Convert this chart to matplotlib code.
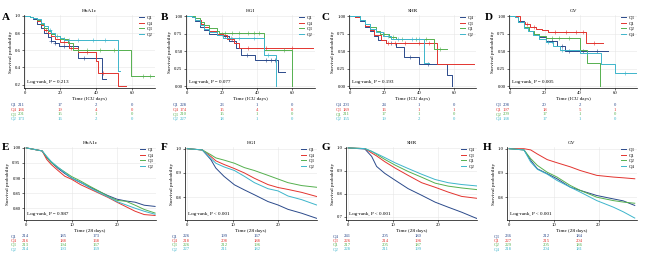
import numpy as np
import matplotlib
matplotlib.use("Agg")
import matplotlib.pyplot as plt

plt.rcParams['font.family'] = ['Liberation Serif', 'DejaVu Serif']

# ---- data ----
colors = ["#2B4A8B", "#E3342F", "#55B04F", "#3DB5CB"]

titles = ["HbA1c", "HGI", "SHR", "GV", "HbA1c", "HGI", "SHR", "GV"]
letters = ["A", "B", "C", "D", "E", "F", "G", "H"]
xlabels = ["Time (ICU days)"] * 4 + ["Time (28 days)"] * 4
pvals = ["Log-rank, P = 0.213", "Log-rank, P = 0.077", "Log-rank, P = 0.193",
         "Log-rank, P = 0.005", "Log-rank, P = 0.987", "Log-rank, P < 0.001",
         "Log-rank, P < 0.001", "Log-rank, P < 0.001"]

strata = [["Q1", "Q4", "Q3", "Q2"], ["Q1", "Q4", "Q3", "Q2"],
          ["Q4", "Q3", "Q1", "Q2"], ["Q3", "Q1", "Q2", "Q4"],
          ["Q1", "Q4", "Q3", "Q2"], ["Q1", "Q4", "Q3", "Q2"],
          ["Q4", "Q3", "Q1", "Q2"], ["Q3", "Q1", "Q2", "Q4"]]

# ICU-days panels (step curves)
A_t = [[0, 3, 5, 7, 9, 11, 13, 15, 17, 19, 29.8, 43, 45.5],
       [0, 3, 5, 7, 9, 11, 13, 15, 17, 20, 25, 30, 40, 41, 52, 56.5],
       [0, 3, 5, 7, 9, 11, 13, 15, 17, 20, 24, 27, 59.5, 72],
       [0, 3, 5, 7, 9, 11, 13, 15, 17, 20, 22, 52, 53.5]]
A_s = [[1, 0.99, 0.96, 0.91, 0.86, 0.80, 0.75, 0.71, 0.68, 0.646, 0.51, 0.27, 0.27],
       [1, 0.99, 0.97, 0.94, 0.89, 0.84, 0.80, 0.76, 0.73, 0.70, 0.63, 0.58, 0.47, 0.33, 0.18, 0.18],
       [1, 0.99, 0.98, 0.95, 0.91, 0.86, 0.82, 0.79, 0.76, 0.73, 0.68, 0.60, 0.30, 0.30],
       [1, 0.99, 0.98, 0.96, 0.92, 0.88, 0.84, 0.80, 0.77, 0.74, 0.72, 0.36, 0.36]]
A_c = [[15, 17, 22, 33], [12, 22, 26, 35, 44], [18, 22, 30, 35, 42, 50, 66, 70], [14, 25, 30, 38, 45]]

B_t = [[0, 3, 5, 7.4, 10, 13, 17, 20.4, 24, 28, 30.7, 39, 52, 56],
       [0, 3, 5, 8, 10, 13, 17, 20.4, 23, 27, 30, 71.5],
       [0, 3, 5, 7.4, 10, 13, 17, 18.5, 43.7, 59.5],
       [0, 3, 5, 7.4, 10, 13, 17, 20.4, 43.7, 50.5]]
B_s = [[1, 0.99, 0.93, 0.84, 0.80, 0.75, 0.73, 0.71, 0.65, 0.54, 0.45, 0.37, 0.20, 0.20],
       [1, 0.99, 0.95, 0.89, 0.85, 0.78, 0.75, 0.725, 0.68, 0.61, 0.545, 0.545],
       [1, 1, 0.97, 0.91, 0.87, 0.83, 0.78, 0.76, 0.51, 0.0],
       [1, 0.99, 0.95, 0.87, 0.82, 0.77, 0.73, 0.69, 0.45, 0.0]]
B_c = [[22, 34, 45, 48, 50], [20, 26, 35, 45, 60], [22, 26, 30, 35, 38, 41, 55], [25, 30, 38, 46]]

C_t = [[0, 3, 6, 9, 11.7, 14, 16.4, 21, 27, 31.6, 40, 56, 59],
       [0, 3, 6, 9, 11.7, 14, 18, 21, 50.5, 71.8],
       [0, 3, 6, 9, 11.7, 15, 17.6, 22.7, 27, 48.6, 56],
       [0, 3, 6, 9, 11.7, 15, 19.4, 24, 43, 45.5]]
C_s = [[1, 0.99, 0.93, 0.85, 0.78, 0.72, 0.66, 0.62, 0.56, 0.41, 0.32, 0.16, 0.0],
       [1, 0.99, 0.94, 0.86, 0.80, 0.73, 0.66, 0.61, 0.31, 0.31],
       [1, 1, 0.95, 0.89, 0.84, 0.79, 0.75, 0.70, 0.68, 0.53, 0.53],
       [1, 1, 0.95, 0.88, 0.82, 0.77, 0.72, 0.68, 0.33, 0.33]]
C_c = [[24, 35, 45], [22, 26, 32, 40, 46], [20, 25, 30, 38, 44, 52], [22, 28, 36, 40]]

D_t = [[0, 3, 5, 8, 11, 13.6, 17, 21, 27, 31.6, 56],
       [0, 3, 6, 9, 11.7, 15, 18.3, 22, 43.9, 53.3],
       [0, 3, 5, 8, 11, 14, 17, 21, 40, 44, 51.4],
       [0, 3, 5, 8, 10.6, 13.6, 17, 21, 25, 28.7, 40, 52.4, 60, 72]]
D_s = [[1, 0.99, 0.93, 0.84, 0.79, 0.75, 0.70, 0.65, 0.58, 0.50, 0.50],
       [1, 1, 0.915, 0.88, 0.84, 0.82, 0.80, 0.77, 0.62, 0.62],
       [1, 0.99, 0.92, 0.84, 0.78, 0.74, 0.71, 0.69, 0.51, 0.33, 0.0],
       [1, 0.99, 0.92, 0.83, 0.78, 0.725, 0.68, 0.63, 0.57, 0.51, 0.47, 0.32, 0.19, 0.19]]
D_c = [[24, 30, 34, 42, 50], [10, 14, 26, 32, 38, 42, 48], [24, 28, 34], [22, 30, 44, 66]]

# 28-day panels (many small steps, drawn as lines through read points)
E_t = [0, 3.5, 4.5, 5.5, 7, 8.5, 10, 12, 14, 16, 18, 20, 22, 24, 26, 28.4]
E_s = [[1, 0.99, 0.968, 0.952, 0.932, 0.915, 0.90, 0.885, 0.87, 0.856, 0.842, 0.83, 0.824, 0.82, 0.81, 0.806],
       [1, 0.99, 0.962, 0.945, 0.925, 0.906, 0.896, 0.878, 0.864, 0.85, 0.836, 0.82, 0.805, 0.79, 0.779, 0.776],
       [1, 0.99, 0.97, 0.952, 0.935, 0.92, 0.905, 0.89, 0.873, 0.857, 0.84, 0.826, 0.823, 0.81, 0.796, 0.784],
       [1, 0.99, 0.972, 0.955, 0.936, 0.918, 0.90, 0.886, 0.868, 0.852, 0.838, 0.822, 0.811, 0.80, 0.79, 0.78]]

F_t = [0, 3.3, 5.2, 6.3, 8.1, 10.4, 12.6, 14.8, 17.8, 20, 22.2, 25.2, 28.5]
F_s = [[1, 0.995, 0.955, 0.92, 0.886, 0.851, 0.83, 0.81, 0.782, 0.768, 0.75, 0.734, 0.713],
       [1, 0.995, 0.968, 0.95, 0.935, 0.918, 0.9, 0.878, 0.852, 0.84, 0.832, 0.82, 0.803],
       [1, 0.995, 0.975, 0.962, 0.953, 0.94, 0.922, 0.91, 0.89, 0.875, 0.86, 0.848, 0.841],
       [1, 0.995, 0.96, 0.94, 0.925, 0.91, 0.886, 0.86, 0.835, 0.826, 0.805, 0.79, 0.768]]

G_t = [0, 3.7, 5.2, 6.3, 8.1, 10.4, 13.3, 16.3, 19.3, 22.2, 25.2, 28.5]
G_s = [[1, 0.995, 0.963, 0.919, 0.889, 0.859, 0.822, 0.793, 0.763, 0.741, 0.719, 0.692],
       [1, 0.997, 0.978, 0.965, 0.94, 0.912, 0.88, 0.848, 0.828, 0.807, 0.788, 0.78],
       [1, 0.997, 0.985, 0.972, 0.95, 0.925, 0.897, 0.872, 0.846, 0.833, 0.825, 0.818],
       [1, 0.997, 0.985, 0.975, 0.958, 0.935, 0.91, 0.885, 0.862, 0.848, 0.84, 0.834]]

H_t = [0, 3.3, 4.8, 6.3, 8.5, 10.7, 13.7, 15.9, 19.6, 23.3, 25.5, 28.1]
H_s = [[1, 0.995, 0.952, 0.917, 0.897, 0.876, 0.841, 0.828, 0.807, 0.793, 0.785, 0.766],
       [1, 1, 0.995, 0.978, 0.955, 0.942, 0.925, 0.91, 0.89, 0.883, 0.88, 0.876],
       [1, 0.995, 0.959, 0.931, 0.903, 0.883, 0.848, 0.828, 0.8, 0.786, 0.78, 0.775],
       [1, 0.995, 0.945, 0.915, 0.895, 0.869, 0.841, 0.821, 0.786, 0.759, 0.74, 0.714]]

# numbers at risk
risk_times_top = [0, 20, 40, 60]
risk_times_bot = [0, 10, 20]
risk = [
    [[211, 17, 2, 0], [186, 19, 4, 0], [201, 15, 1, 0], [173, 16, 2, 0]],
    [[228, 23, 1, 0], [174, 15, 4, 0], [210, 15, 1, 0], [227, 18, 1, 0]],
    [[203, 24, 1, 0], [189, 16, 1, 1], [211, 17, 1, 0], [155, 19, 2, 0]],
    [[208, 20, 2, 0], [197, 18, 5, 1], [209, 17, 1, 0], [138, 17, 1, 0]],
    [[214, 185, 173], [216, 188, 168], [213, 194, 167], [214, 193, 169]],
    [[226, 199, 167], [218, 208, 188], [226, 212, 196], [227, 211, 182]],
    [[241, 205, 180], [226, 214, 196], [217, 205, 187], [228, 211, 199]],
    [[236, 212, 184], [227, 215, 204], [229, 205, 186], [218, 204, 181]],
]

yticks_all = [[0.2, 0.4, 0.6, 0.8, 1.0], [0, 0.25, 0.5, 0.75, 1.0],
              [0, 0.25, 0.5, 0.75, 1.0], [0, 0.25, 0.5, 0.75, 1.0],
              [0.80, 0.85, 0.90, 0.95, 1.0], [0.8, 0.9, 1.0],
              [0.7, 0.8, 0.9, 1.0], [0.8, 0.9, 1.0]]
yfmt = ["%.1f", "%.2f", "%.2f", "%.2f", "%.2f", "%.1f", "%.1f", "%.1f"]
ylims = [(0.16, 1.01), (-0.025, 1.015), (-0.025, 1.015), (-0.025, 1.015),
         (0.761, 1.003), (0.706, 1.007), (0.685, 1.004), (0.706, 1.007)]

top_curves = [(A_t, A_s, A_c), (B_t, B_s, B_c), (C_t, C_s, C_c), (D_t, D_s, D_c)]
bot_curves = [(E_t, E_s), (F_t, F_s), (G_t, G_s), (H_t, H_s)]

# ---- layout (pixels) ----
W, Hpx = 648, 262
lefts = [[24, 186, 349, 509], [24, 185, 346, 507]]
rights = [[155, 315, 476, 637], [156, 317, 477, 637]]
tops = [15, 147]
bottoms = [88, 220]
table_rows = [[105, 109.7, 114.3, 119], [236, 240.5, 245, 249.5]]
letter_pos = [(2, 17), (161, 17), (322, 17), (485, 17),
              (2, 147), (161, 147), (322, 147), (483, 147)]

fig = plt.figure(figsize=(6.48, 2.62), dpi=100)

fs = 3.4
for k in range(8):
    row, col = divmod(k, 4)
    l, r = lefts[row][col], rights[row][col]
    t, b = tops[row], bottoms[row]
    ax = fig.add_axes([l / W, 1 - b / Hpx, (r - l) / W, (b - t) / Hpx])

    if row == 0:
        ts, ss, cs = top_curves[col]
        for i in range(4):
            ax.plot(ts[i], ss[i], drawstyle="steps-post", color=colors[i], lw=0.7, label=strata[k][i])
            tt = np.asarray(ts[i])
            idx = np.searchsorted(tt, cs[i], side="right") - 1
            ax.plot(cs[i], np.asarray(ss[i])[idx], "+", color=colors[i], ms=2.2, mew=0.4)
        xlim = (-0.3, 72.8)
        xt = [0, 20, 40, 60]
    else:
        tb, sb = bot_curves[col]
        for i in range(4):
            ax.plot(tb, sb[i], color=colors[i], lw=0.7, label=strata[k][i])
        xlim = (-0.5, 28.6)
        xt = [0, 10, 20]

    ax.set_xlim(*xlim)
    ax.set_ylim(*ylims[k])
    ax.set_xticks(xt)
    ax.set_yticks(yticks_all[k])
    ax.set_yticklabels([yfmt[k] % v for v in yticks_all[k]])
    ax.grid(True, color="#E6E6E6", lw=0.4)
    ax.set_axisbelow(True)
    for s in ["top", "right"]:
        ax.spines[s].set_visible(False)
    for s in ["left", "bottom"]:
        ax.spines[s].set_linewidth(0.5)
    ax.tick_params(labelsize=fs, length=1.5, width=0.4, pad=1)
    ax.set_title(titles[k], fontsize=fs + 0.4, pad=2.5)
    ax.set_xlabel(xlabels[k], fontsize=fs + 0.3, labelpad=1)
    ax.set_ylabel("Survival probability", fontsize=fs + 0.3, labelpad=1.5)
    ax.text(0.02, 0.05, pvals[k], transform=ax.transAxes, fontsize=fs + 0.3, va="bottom")
    ax.legend(loc="upper right", bbox_to_anchor=(1.0, 1.03), fontsize=fs, frameon=False,
              handlelength=1.2, handletextpad=0.4, labelspacing=0.25, borderaxespad=0.2)

    fig.text(letter_pos[k][0] / W, 1 - letter_pos[k][1] / Hpx, letters[k],
             fontsize=8, fontweight="bold", va="center", ha="left")

    # risk table
    if row == 0:
        rel = [-3] + [(tv - xlim[0]) / (xlim[1] - xlim[0]) * (r - l) for tv in risk_times_top[1:]]
    else:
        rel = [1, 39, 72]
    for i in range(4):
        y = 1 - table_rows[row][i] / Hpx
        fig.text((l - 10) / W, y, strata[k][i], color=colors[i], fontsize=fs, ha="center", va="center")
        for j, v in enumerate(risk[k][i]):
            fig.text((l + rel[j]) / W, y, str(v), color=colors[i], fontsize=fs, ha="center", va="center")

fig.savefig("out.png", dpi=100)
